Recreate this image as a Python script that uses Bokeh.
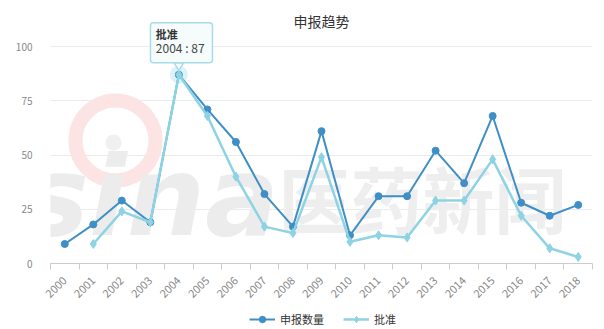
import numpy as np
from bokeh.plotting import figure
from bokeh.layouts import column
from bokeh.models import Range1d, FixedTicker, Legend, LegendItem, Label
from bokeh.core.properties import value
from bokeh.embed import file_html
from bokeh.resources import INLINE

years = [str(y) for y in range(2000, 2019)]
applied = [9, 18, 29, 19, 87, 71, 56, 32, 17, 61, 13, 31, 31, 52, 37, 68, 28, 22, 27]
approved = [np.nan, 9, 24, 19, 87, 68, 40, 17, 14, 49, 10, 13, 12, 29, 29, 48, 22, 7, 3]
y_ticks = [0, 25, 50, 75, 100]
title_text = "申报趋势"
series_names = ["申报数量", "批准"]
tip_year = "2004"

DARK = "#3f8fc6"
LIGHT = "#8dd3e3"
FONT = "Noto Sans CJK SC"

W = 604
H1, H2 = 305, 24
L, R, T, B = 50, 12, 46, 42
fh = 263 - T
fw = W - L - R
px_x = fw / len(years)
px_y = fh / 100.0

xs = np.arange(len(years)) + 0.5
p = figure(width=W, height=H1, output_backend="svg", toolbar_location=None, title=None,
           x_range=Range1d(0, len(years)), y_range=Range1d(0, 100 + T / px_y),
           min_border_left=L, min_border_right=R, min_border_top=0, min_border_bottom=B)
p.outline_line_color = None
p.background_fill_color = "white"

# watermark
p.scatter(x=[65 / px_x], y=[123 / px_y], size=80, fill_color=None, line_color="#fce4e4", line_width=14)
p.scatter(x=[63 / px_x], y=[121 / px_y], size=16, fill_color="#f0f0f0", line_color=None)
p.text(x=[-27 / px_x], y=[35 / px_y], text=["sina"], text_font=value("DejaVu Sans"),
       text_font_style="bold italic", text_font_size="110px", text_color="#ececec",
       text_baseline="alphabetic", y_offset=-32)
p.text(x=[228 / px_x], y=[35 / px_y], text=["医药新闻"], text_font=value(FONT), text_font_style="bold",
       text_font_size="72px", text_color="#eeeeee", text_baseline="alphabetic", y_offset=-32)

# axes
p.xaxis.ticker = FixedTicker(ticks=list(xs), minor_ticks=list(range(len(years) + 1)))
p.xaxis.major_label_overrides = {float(x): y for x, y in zip(xs, years)}
p.xaxis.major_tick_line_color = None
p.xaxis.minor_tick_line_color = "#cccccc"
p.xaxis.minor_tick_in = 0
p.xaxis.minor_tick_out = 6
p.xaxis.axis_line_color = "#cccccc"
p.xaxis.major_label_orientation = np.pi / 4
p.xaxis.major_label_text_font = FONT
p.xaxis.major_label_text_font_size = "11px"
p.xaxis.major_label_text_color = "#888888"
p.xaxis.major_label_standoff = 9

p.yaxis.ticker = FixedTicker(ticks=y_ticks)
p.yaxis.axis_line_color = None
p.yaxis.major_tick_line_color = None
p.yaxis.minor_tick_line_color = None
p.yaxis.major_label_text_font = FONT
p.yaxis.major_label_text_font_size = "10px"
p.yaxis.major_label_text_color = "#888888"
p.yaxis.major_label_standoff = 12

p.xgrid.grid_line_color = None
p.ygrid.grid_line_color = "#ebebeb"
p.ygrid.ticker = FixedTicker(ticks=y_ticks[1:])

# title
p.add_layout(Label(x=len(years) / 2, y=100 + 26 / px_y, text=title_text, text_align="center",
                   text_baseline="middle", text_font=FONT, text_font_size="14px", text_color="#333333"))

# highlight halo
ti = years.index(tip_year)
p.scatter(x=[xs[ti]], y=[approved[ti]], size=18, fill_color=LIGHT, fill_alpha=0.3, line_color=None)

l1 = p.line(xs, applied, line_color=DARK, line_width=2)
s1 = p.scatter(xs, applied, marker="circle", size=7, fill_color=DARK, line_color=DARK)
l2 = p.line(xs, approved, line_color=LIGHT, line_width=2.5)
s2 = p.scatter(xs, approved, marker="diamond", size=9, fill_color=LIGHT, line_color=LIGHT)

# tooltip
bx = xs[ti] + 2.6 / px_x
by = approved[ti] + 32 / px_y
p.rect(x=[bx], y=[by], width=62, height=40, width_units="screen", height_units="screen",
       fill_color="#f6fbfc", fill_alpha=0.95, line_color="#a8dce8", line_width=1.5, border_radius=3)
p.scatter(x=[xs[ti]], y=[approved[ti] + 9 / px_y], marker="inverted_triangle", size=9,
          fill_color="#f6fbfc", line_color="#a8dce8", line_width=1.5)
p.text(x=[xs[ti]], y=[approved[ti]], text=[series_names[1]], x_offset=-23, y_offset=-41,
       text_font=value(FONT), text_font_style="bold", text_font_size="11px", text_color="#333333",
       text_baseline="middle")
p.text(x=[xs[ti]], y=[approved[ti]], text=[f"{tip_year} : {int(approved[ti])}"], x_offset=-23, y_offset=-27,
       text_font=value(FONT), text_font_size="12px", text_color="#444444", text_baseline="middle")

# legend strip
p2 = figure(width=W, height=H2, output_backend="svg", toolbar_location=None, title=None,
            x_range=Range1d(0, 1), y_range=Range1d(0, 1),
            min_border_left=0, min_border_right=0, min_border_top=0, min_border_bottom=0,
            x_axis_location=None, y_axis_location=None)
p2.outline_line_color = None
p2.grid.visible = False
off = [5, 6]
d1 = p2.line(off, off, line_color=DARK, line_width=2)
e1 = p2.scatter(off, off, marker="circle", size=7, fill_color=DARK, line_color=DARK)
d2 = p2.line(off, off, line_color=LIGHT, line_width=2.5)
e2 = p2.scatter(off, off, marker="diamond", size=9, fill_color=LIGHT, line_color=LIGHT)
legend = Legend(items=[LegendItem(label=series_names[0], renderers=[d1, e1]),
                       LegendItem(label=series_names[1], renderers=[d2, e2])],
                orientation="horizontal", location=(199, 2), margin=0, padding=0,
                border_line_color=None, background_fill_alpha=0,
                label_text_font=FONT, label_text_font_size="11px", label_text_color="#333333",
                glyph_width=26, glyph_height=16, label_height=16, label_standoff=5, spacing=19)
p2.add_layout(legend)

layout = column(p, p2, spacing=0)
open("out.html", "w").write(file_html(layout, INLINE))
